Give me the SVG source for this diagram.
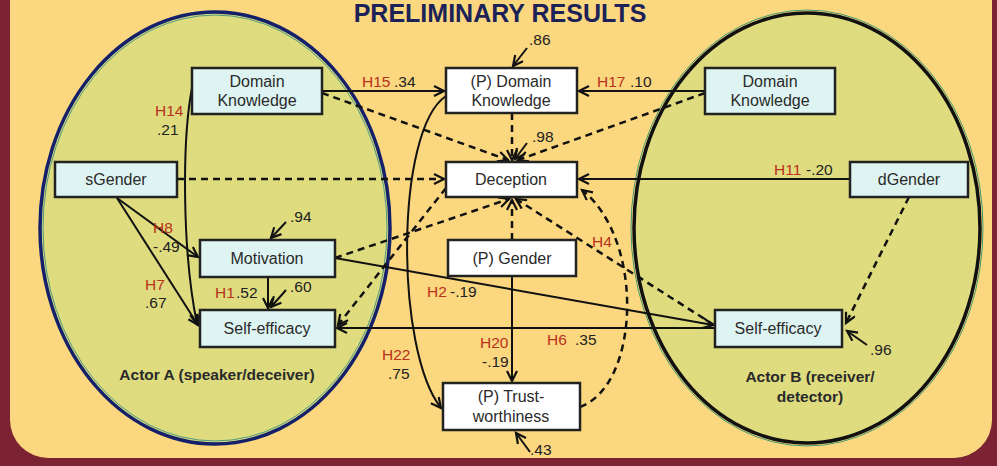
<svg xmlns="http://www.w3.org/2000/svg" width="997" height="466" viewBox="0 0 997 466">
<defs>
<marker id="arr" markerUnits="userSpaceOnUse" markerWidth="14" markerHeight="14" refX="11" refY="6" orient="auto">
<path d="M1,1 L11,6 L1,11" fill="none" stroke="#111" stroke-width="2.2"/>
</marker>
<style>
text{font-family:"Liberation Sans",Arial,sans-serif;}
.box{stroke:#222;stroke-width:2.5;}
.cy{fill:#def4f2;}
.wh{fill:#ffffff;}
.bt{font-size:16px;fill:#2a2a2a;text-anchor:middle;}
.ln{fill:none;stroke:#111;stroke-width:2;}
.ds{fill:none;stroke:#111;stroke-width:2.5;stroke-dasharray:7 5;}
.h{font-size:15.5px;fill:#b8321c;}
.n{font-size:15.5px;fill:#222;}
.act{font-size:15.5px;font-weight:bold;fill:#2a2a2a;text-anchor:middle;}
</style>
</defs>
<rect x="0" y="0" width="997" height="466" fill="#7b2233"/>
<rect x="10" y="-40" width="982" height="498" rx="38" fill="#fbd77f"/>
<g id="actorA">
<ellipse cx="215" cy="228" rx="175" ry="216" fill="#dedc7f" stroke="#15206b" stroke-width="3.5"/>
<ellipse cx="215" cy="228" rx="172" ry="213" fill="none" stroke="#4f9a80" stroke-width="1"/>
<text class="act" x="217" y="380">Actor A (speaker/deceiver)</text>
</g>
<g id="actorB">
<ellipse cx="807" cy="228" rx="173" ry="215" fill="#dedc7f" stroke="#111" stroke-width="3.5"/>
<ellipse cx="807" cy="228" rx="176" ry="218" fill="none" stroke="#3f9a70" stroke-width="1"/>
<text class="act" x="810" y="382">Actor B (receiver/</text>
<text class="act" x="810" y="402">detector)</text>
</g>
<text x="500" y="22" font-size="25" font-weight="bold" fill="#1c2257" text-anchor="middle">PRELIMINARY RESULTS</text>
<g id="connectors">
<path class="ln" d="M322,91 L444,91" marker-end="url(#arr)"/>
<path class="ln" d="M705,91 L579,91" marker-end="url(#arr)"/>
<path class="ln" d="M527,48 L513,66" marker-end="url(#arr)"/>
<path class="ds" d="M512,113 L512,160" marker-end="url(#arr)"/>
<path class="ln" d="M527,143 L515,159" marker-end="url(#arr)"/>
<path class="ds" d="M322,93 L508,160" marker-end="url(#arr)"/>
<path class="ds" d="M705,93 L518,160" marker-end="url(#arr)"/>
<path class="ds" d="M177,179 L444,179" marker-end="url(#arr)"/>
<path class="ln" d="M850,179 L579,179" marker-end="url(#arr)"/>
<path class="ds" d="M335,258 L509,199" marker-end="url(#arr)"/>
<path class="ds" d="M512,240 L512,200" marker-end="url(#arr)"/>
<path class="ds" d="M714,325 L516,199" marker-end="url(#arr)"/>
<path class="ds" d="M580,407 C640,385 645,240 582,190" marker-end="url(#arr)"/>
<path class="ds" d="M909,197 L846,323" marker-end="url(#arr)"/>
<path class="ln" d="M867,345 L847,331" marker-end="url(#arr)"/>
<path class="ln" d="M715,328 L337,328" marker-end="url(#arr)"/>
<path class="ln" d="M335,258 L713,325" marker-end="url(#arr)"/>
<path class="ln" d="M512,276 L512,381" marker-end="url(#arr)"/>
<path class="ln" d="M446,96 C395,130 395,350 441,408" marker-end="url(#arr)"/>
<path class="ln" d="M530,452 L516,433" marker-end="url(#arr)"/>
<path class="ln" d="M192,88 C182,140 182,250 197,324" marker-end="url(#arr)"/>
<path class="ln" d="M117,198 L198,257" marker-end="url(#arr)"/>
<path class="ln" d="M117,198 L198,325" marker-end="url(#arr)"/>
<path class="ln" d="M268,277 L268,308" stroke-width="3.5" marker-end="url(#arr)"/>
<path class="ln" d="M286,290 L271,307" marker-end="url(#arr)"/>
<path class="ln" d="M286,222 L271,238" marker-end="url(#arr)"/>
<path class="ds" d="M446,188 L338,325" marker-end="url(#arr)"/>
</g>
<g id="labels">
<text class="h" x="362" y="87">H15</text><text class="n" x="394" y="87">.34</text>
<text class="h" x="597" y="87">H17</text><text class="n" x="630" y="87">.10</text>
<text class="n" x="529" y="45">.86</text>
<text class="n" x="532" y="142">.98</text>
<text class="h" x="774" y="175">H11</text><text class="n" x="806" y="175">-.20</text>
<text class="h" x="155" y="116">H14</text><text class="n" x="157" y="135">.21</text>
<text class="h" x="153" y="233">H8</text><text class="n" x="153" y="252">-.49</text>
<text class="h" x="145" y="290">H7</text><text class="n" x="145" y="308">.67</text>
<text class="h" x="215" y="298">H1</text><text class="n" x="236" y="298">.52</text>
<text class="n" x="290" y="292">.60</text>
<text class="n" x="290" y="222">.94</text>
<text class="h" x="427" y="297">H2</text><text class="n" x="450" y="297">-.19</text>
<text class="h" x="592" y="247">H4</text>
<text class="h" x="480" y="348">H20</text><text class="n" x="482" y="367">-.19</text>
<text class="h" x="547" y="345">H6</text><text class="n" x="575" y="345">.35</text>
<text class="h" x="382" y="360">H22</text><text class="n" x="388" y="379">.75</text>
<text class="n" x="870" y="355">.96</text>
<text class="n" x="530" y="455">.43</text>
</g>
<g id="aDomain"><rect class="box cy" x="192" y="68" width="130" height="46"/><text class="bt" x="257" y="87">Domain</text><text class="bt" x="257" y="106">Knowledge</text></g>
<g id="pDomain"><rect class="box wh" x="446" y="68" width="131" height="45"/><text class="bt" x="511" y="87">(P) Domain</text><text class="bt" x="511" y="106">Knowledge</text></g>
<g id="bDomain"><rect class="box cy" x="705" y="68" width="130" height="46"/><text class="bt" x="770" y="87">Domain</text><text class="bt" x="770" y="106">Knowledge</text></g>
<g id="sGender"><rect class="box cy" x="55" y="162" width="122" height="35"/><text class="bt" x="116" y="185">sGender</text></g>
<g id="deception"><rect class="box wh" x="446" y="162" width="131" height="35"/><text class="bt" x="511" y="185">Deception</text></g>
<g id="dGender"><rect class="box cy" x="850" y="162" width="118" height="35"/><text class="bt" x="909" y="185">dGender</text></g>
<g id="motivation"><rect class="box cy" x="200" y="240" width="135" height="37"/><text class="bt" x="267" y="264">Motivation</text></g>
<g id="pGender"><rect class="box wh" x="448" y="240" width="128" height="36"/><text class="bt" x="512" y="264">(P) Gender</text></g>
<g id="aSelf"><rect class="box cy" x="200" y="310" width="135" height="37"/><text class="bt" x="267" y="334">Self-efficacy</text></g>
<g id="bSelf"><rect class="box cy" x="715" y="310" width="127" height="37"/><text class="bt" x="778" y="334">Self-efficacy</text></g>
<g id="pTrust"><rect class="box wh" x="443" y="383" width="137" height="47"/><text class="bt" x="511" y="402">(P) Trust-</text><text class="bt" x="511" y="422">worthiness</text></g>
</svg>
